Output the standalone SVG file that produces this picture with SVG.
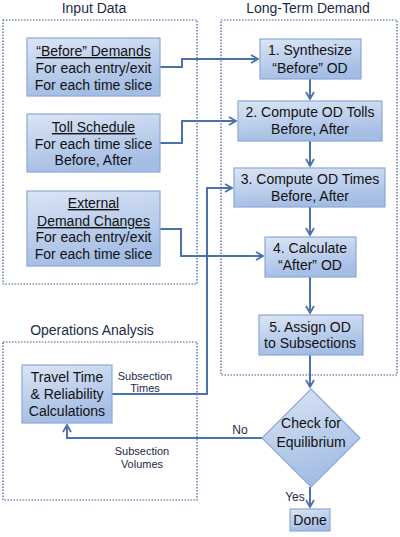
<svg xmlns="http://www.w3.org/2000/svg" width="400" height="537" viewBox="0 0 400 537">
<defs>
<linearGradient id="g" x1="0" y1="0" x2="0.3" y2="1">
<stop offset="0" stop-color="#dbe5f5"/>
<stop offset="1" stop-color="#a4bde4"/>
</linearGradient>
<marker id="ah" markerWidth="10" markerHeight="10" refX="8" refY="5" orient="auto" markerUnits="userSpaceOnUse">
<path d="M1,1 L8,5 L1,9" fill="none" stroke="#4d71aa" stroke-width="1.8"/>
</marker>
<style>
.frame{fill:none;stroke:#3a5a92;stroke-width:1.2;stroke-dasharray:1.5 1.5}
.box{fill:url(#g);stroke:#8ca8d8;stroke-width:1.2}
.t{font-family:"Liberation Sans",Arial,sans-serif;font-size:14px;fill:#111;text-anchor:middle}
.h{font-family:"Liberation Sans",Arial,sans-serif;font-size:14px;fill:#1c2b48;text-anchor:middle}
.s{font-family:"Liberation Sans",Arial,sans-serif;font-size:11px;fill:#1c2b48;text-anchor:middle}
.u{text-decoration:underline}
.c{fill:none;stroke:#4d71aa;stroke-width:2}
</style>
</defs>
<rect width="400" height="537" fill="#fff"/>

<g id="frames">
<rect class="frame" x="3" y="20" width="194" height="264"/>
<rect class="frame" x="221" y="20" width="176" height="355"/>
<rect class="frame" x="3" y="342" width="194" height="158"/>
<text class="h" x="94" y="13">Input Data</text>
<text class="h" x="308" y="13">Long-Term Demand</text>
<text class="h" x="92" y="335">Operations Analysis</text>
</g>

<g id="connectors">
<polyline class="c" points="160,67 182,67 182,59 258,59" marker-end="url(#ah)"/>
<polyline class="c" points="160,143 182,143 182,121 236,121" marker-end="url(#ah)"/>
<polyline class="c" points="160,229 181,229 181,256 263,256" marker-end="url(#ah)"/>
<polyline class="c" points="112,394 207,394 207,188 232,188" marker-end="url(#ah)"/>
<polyline class="c" points="262,438 67,438 67,425" marker-end="url(#ah)"/>
<line class="c" x1="310" y1="79" x2="310" y2="99" marker-end="url(#ah)"/>
<line class="c" x1="310" y1="141" x2="310" y2="166" marker-end="url(#ah)"/>
<line class="c" x1="310" y1="207" x2="310" y2="235" marker-end="url(#ah)"/>
<line class="c" x1="310" y1="277" x2="310" y2="313" marker-end="url(#ah)"/>
<line class="c" x1="310" y1="355" x2="310" y2="387" marker-end="url(#ah)"/>
<line class="c" x1="310" y1="487" x2="310" y2="507" marker-end="url(#ah)"/>
<text class="s" x="145" y="380">Subsection</text>
<text class="s" x="145" y="392">Times</text>
<text class="s" x="142" y="455">Subsection</text>
<text class="s" x="142" y="468">Volumes</text>
<text class="s" x="240" y="434" style="font-size:12px">No</text>
<text class="s" x="295" y="501" style="font-size:12px">Yes</text>
</g>

<g id="before-demands">
<rect class="box" x="27" y="38" width="133" height="58"/>
<text class="t u" x="93.5" y="56">“Before” Demands</text>
<text class="t" x="93.5" y="73">For each entry/exit</text>
<text class="t" x="93.5" y="90">For each time slice</text>
</g>
<g id="toll-schedule">
<rect class="box" x="27" y="114" width="133" height="58"/>
<text class="t u" x="93.5" y="132">Toll Schedule</text>
<text class="t" x="93.5" y="149">For each time slice</text>
<text class="t" x="93.5" y="165">Before, After</text>
</g>
<g id="external-demand">
<rect class="box" x="27" y="191" width="133" height="75"/>
<text class="t u" x="93.5" y="208">External</text>
<text class="t u" x="93.5" y="226">Demand Changes</text>
<text class="t" x="93.5" y="242">For each entry/exit</text>
<text class="t" x="93.5" y="259">For each time slice</text>
</g>

<g id="step1">
<rect class="box" x="260" y="39" width="101" height="40"/>
<text class="t" x="310" y="55">1. Synthesize</text>
<text class="t" x="310" y="73">“Before” OD</text>
</g>
<g id="step2">
<rect class="box" x="238" y="101" width="144" height="40"/>
<text class="t" x="310" y="117">2. Compute OD Tolls</text>
<text class="t" x="310" y="134">Before, After</text>
</g>
<g id="step3">
<rect class="box" x="234" y="168" width="151" height="39"/>
<text class="t" x="310" y="184">3. Compute OD Times</text>
<text class="t" x="310" y="201">Before, After</text>
</g>
<g id="step4">
<rect class="box" x="265" y="237" width="91" height="40"/>
<text class="t" x="310" y="253">4. Calculate</text>
<text class="t" x="310" y="270">“After” OD</text>
</g>
<g id="step5">
<rect class="box" x="259" y="315" width="104" height="40"/>
<text class="t" x="310" y="332">5. Assign OD</text>
<text class="t" x="310" y="348">to Subsections</text>
</g>
<g id="check">
<polygon class="box" points="311,389 360,438 311,487 262,438"/>
<text class="t" x="311" y="428">Check for</text>
<text class="t" x="311" y="447">Equilibrium</text>
</g>
<g id="done">
<rect class="box" x="290" y="509" width="40" height="22"/>
<text class="t" x="310" y="525">Done</text>
</g>
<g id="travel-time">
<rect class="box" x="22" y="365" width="90" height="58"/>
<text class="t" x="67" y="382">Travel Time</text>
<text class="t" x="67" y="399">&amp; Reliability</text>
<text class="t" x="67" y="416">Calculations</text>
</g>
</svg>
